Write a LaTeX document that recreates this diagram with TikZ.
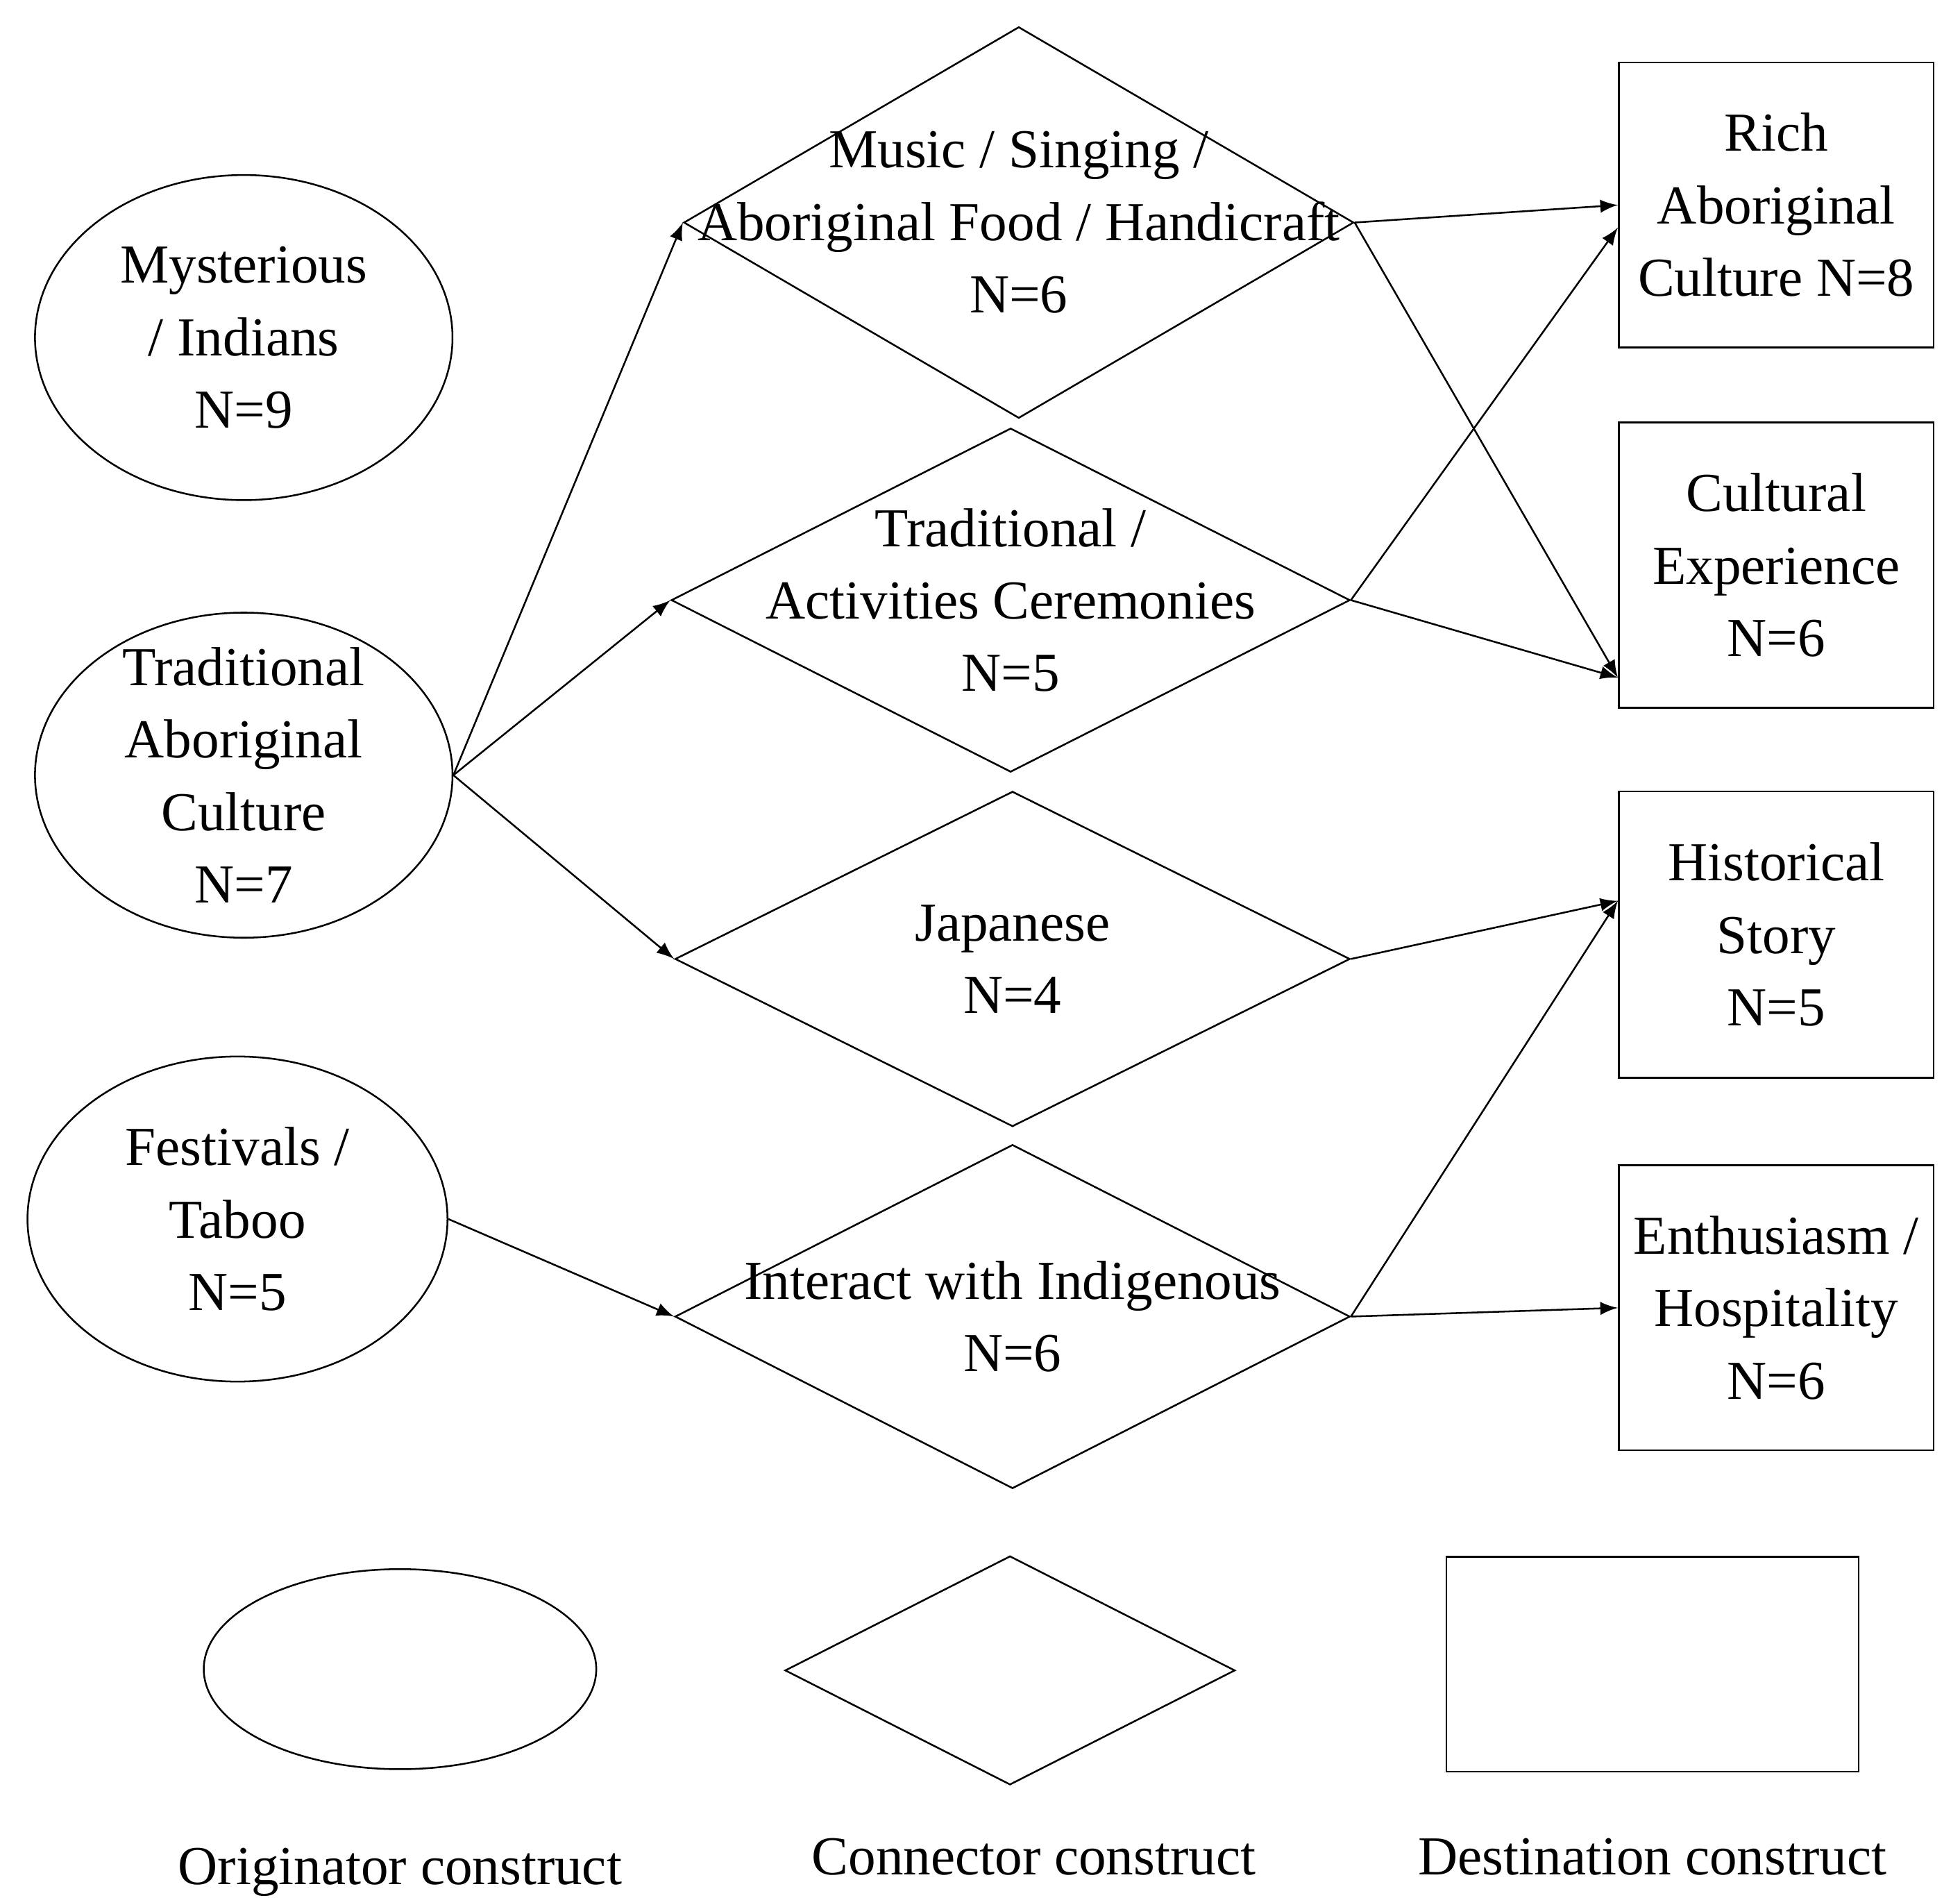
\documentclass[tikz,border=0pt]{standalone}
\usepackage{fontspec}
\setmainfont{Liberation Serif}
\usetikzlibrary{shapes.geometric}
\begin{document}
\begin{tikzpicture}[x=1cm,y=1cm,
    orig/.style={draw,ellipse,inner sep=0pt},
    conn/.style={draw,diamond,inner sep=0pt},
    dest/.style={draw,rectangle,inner sep=0pt},
    txt/.style={align=center,font=\fontsize{12.5}{16.5}\selectfont},
    arr/.style={-latex,thin}]
  \useasboundingbox (0,0) rectangle (15.68,15.18);

  % Originator constructs
  \node[orig,minimum width=3.34cm,minimum height=2.6cm] (mys) at (1.95,12.48) {};
  \node[orig,minimum width=3.34cm,minimum height=2.6cm] (tac) at (1.95,8.98) {};
  \node[orig,minimum width=3.36cm,minimum height=2.6cm] (fes) at (1.90,5.43) {};
  \node[txt] at (mys.center) {Mysterious\\/ Indians\\N=9};
  \node[txt] at (tac.center) {Traditional\\Aboriginal\\Culture\\N=7};
  \node[txt] at (fes.center) {Festivals /\\Taboo\\N=5};

  % Connector constructs
  \node[conn,minimum width=5.36cm,minimum height=3.13cm] (mus) at (8.15,13.40) {};
  \node[conn,minimum width=5.43cm,minimum height=2.75cm] (tra) at (8.085,10.38) {};
  \node[conn,minimum width=5.40cm,minimum height=2.68cm] (jap) at (8.10,7.51) {};
  \node[conn,minimum width=5.40cm,minimum height=2.75cm] (int) at (8.10,4.65) {};
  \node[txt] at (mus.center) {Music / Singing /\\Aboriginal Food / Handicraft\\N=6};
  \node[txt] at (tra.center) {Traditional /\\Activities Ceremonies\\N=5};
  \node[txt] at (jap.center) {Japanese\\N=4};
  \node[txt] at (int.center) {Interact with Indigenous\\N=6};

  % Destination constructs
  \node[dest,minimum width=2.52cm,minimum height=2.28cm] (ric) at (14.21,13.54) {};
  \node[dest,minimum width=2.52cm,minimum height=2.28cm] (cul) at (14.21,10.66) {};
  \node[dest,minimum width=2.52cm,minimum height=2.29cm] (his) at (14.21,7.705) {};
  \node[dest,minimum width=2.52cm,minimum height=2.28cm] (ent) at (14.21,4.72) {};
  \node[txt] at (ric.center) {Rich\\Aboriginal\\Culture N=8};
  \node[txt] at (cul.center) {Cultural\\Experience\\N=6};
  \node[txt] at (his.center) {Historical\\Story\\N=5};
  \node[txt] at (ent.center) {Enthusiasm /\\Hospitality\\N=6};

  % Links
  \draw[arr] (tac.east) -- (mus.west);
  \draw[arr] (tac.east) -- (tra.west);
  \draw[arr] (tac.east) -- (jap.west);
  \draw[arr] (fes.east) -- (int.west);
  \draw[arr] (mus.east) -- (ric.west);
  \draw[arr] (mus.east) -- ([yshift=-0.9cm]cul.west);
  \draw[arr] (tra.east) -- ([yshift=-0.18cm]ric.west);
  \draw[arr] (tra.east) -- ([yshift=-0.9cm]cul.west);
  \draw[arr] (jap.east) -- ([yshift=0.27cm]his.west);
  \draw[arr] (int.east) -- ([yshift=0.27cm]his.west);
  \draw[arr] (int.east) -- (ent.west);

  % Legend
  \node[orig,minimum width=3.14cm,minimum height=1.6cm] (lo) at (3.20,1.83) {};
  \node[conn,minimum width=3.60cm,minimum height=1.83cm] (lc) at (8.08,1.82) {};
  \node[dest,minimum width=3.30cm,minimum height=1.72cm] (ld) at (13.22,1.87) {};
  \node[txt,below=0.5cm] at (lo.south) {Originator construct};
  \node[txt] at (8.27,0.33) {Connector construct};
  \node[txt] at (13.22,0.33) {Destination construct};
\end{tikzpicture}
\end{document}
